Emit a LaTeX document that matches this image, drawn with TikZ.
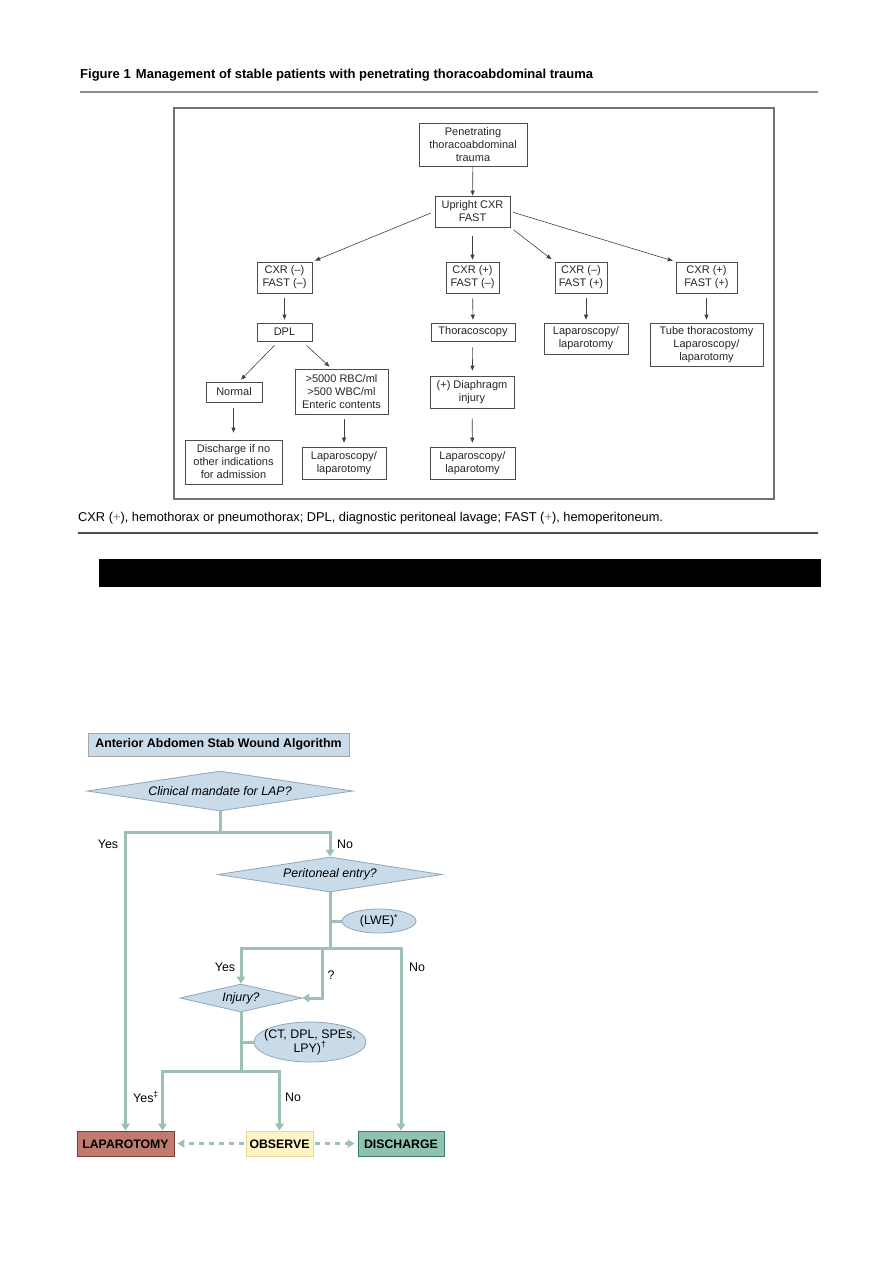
\documentclass[tikz,border=0pt]{standalone}
\usepackage{fontspec}
\setmainfont{Liberation Sans}
\usepackage{xcolor}
\usepackage{tikz}
\usetikzlibrary{arrows.meta,shapes.geometric}

\definecolor{flowline}{HTML}{9CC0B3}
\definecolor{qfill}{HTML}{C9DAE8}
\definecolor{qdraw}{HTML}{8FA6BC}
\definecolor{lapfill}{HTML}{C17A70}
\definecolor{lapdraw}{HTML}{7E3E38}
\definecolor{obsfill}{HTML}{FDF5C6}
\definecolor{obsdraw}{HTML}{E6D99A}
\definecolor{disfill}{HTML}{90C2B2}
\definecolor{disdraw}{HTML}{3F7B6B}

\begin{document}
\begin{tikzpicture}[x=1pt,y=-1pt,>={Triangle[length=5pt,width=4pt]},
  tbox/.style={draw=black!70,line width=0.7pt,align=center,inner sep=1pt,text=black!85,font=\fontsize{11}{13}\selectfont},
  tline/.style={->,draw=black!75,line width=0.6pt},
  flow/.style={draw=flowline,line width=3pt},
  flowarr/.style={flow,-{Triangle[length=7pt,width=8.5pt]}},
  dashflow/.style={draw=flowline,line width=2.5pt,dash pattern=on 5pt off 5pt,-{Triangle[length=7pt,width=8pt]},shorten >=3pt,shorten <=2pt},
  question/.style={diamond,aspect=5,draw=qdraw,fill=qfill,line width=0.8pt,inner sep=0pt,font=\itshape\fontsize{12.4}{14}\selectfont},
  note/.style={ellipse,draw=qdraw,fill=qfill,line width=0.8pt,inner xsep=-7pt,inner ysep=0pt,align=center,font=\fontsize{12.4}{14}\selectfont},
  outcome/.style={draw,line width=0.9pt,minimum height=25pt,inner sep=0pt,text height=9pt,text depth=0pt,font=\bfseries\fontsize{12.3}{14}\selectfont},
  lbl/.style={inner sep=0pt,font=\fontsize{12.4}{14}\selectfont}]
  \useasboundingbox (0,0) rectangle (893,1263);

  % figure 1 header and frame
  \node[anchor=west,inner sep=0pt,font=\bfseries\fontsize{13}{15}\selectfont] (figtitle) at (80,75) {Figure 1\hspace{0.4em}Management of stable patients with penetrating thoracoabdominal trauma};
  \draw[black!45,line width=1.2pt] (80,92) -- (818,92);
  \draw[black!55,line width=1.4pt] (174,108) rectangle (774,499);

  % figure 1 boxes
  \node[tbox,minimum width=108pt,minimum height=43pt] (pen) at (473,144.5) {Penetrating\\thoracoabdominal\\trauma};
  \node[tbox,minimum width=75pt,minimum height=31pt] (up) at (472.5,211.5) {Upright CXR\\FAST};
  \node[tbox,minimum width=55pt,minimum height=31pt] (c1) at (284.5,277.5) {CXR (–)\\FAST (–)};
  \node[tbox,minimum width=53pt,minimum height=31pt] (c2) at (472.5,277.5) {CXR (+)\\FAST (–)};
  \node[tbox,minimum width=52pt,minimum height=31pt] (c3) at (581,277.5) {CXR (–)\\FAST (+)};
  \node[tbox,minimum width=61pt,minimum height=31pt] (c4) at (706.5,277.5) {CXR (+)\\FAST (+)};
  \node[tbox,minimum width=55pt,minimum height=18pt] (dpl) at (284.5,332) {DPL};
  \node[tbox,minimum width=84pt,minimum height=18pt] (thor) at (473,332) {Thoracoscopy};
  \node[tbox,minimum width=84pt,minimum height=31pt] (lap3) at (586,338.5) {Laparoscopy/\\laparotomy};
  \node[tbox,minimum width=113pt,minimum height=43pt] (tube) at (706.5,344.5) {Tube thoracostomy\\Laparoscopy/\\laparotomy};
  \node[tbox,minimum width=56pt,minimum height=20pt] (norm) at (234,392) {Normal};
  \node[tbox,minimum width=93pt,minimum height=45pt] (rbc) at (341.5,391.5) {>5000 RBC/ml\\>500 WBC/ml\\Enteric contents};
  \node[tbox,minimum width=84pt,minimum height=32pt] (dia) at (472,392) {(+) Diaphragm\\injury};
  \node[tbox,minimum width=97pt,minimum height=44pt] (disc) at (233.5,462) {Discharge if no\\other indications\\for admission};
  \node[tbox,minimum width=84pt,minimum height=32pt] (lapa) at (344,463) {Laparoscopy/\\laparotomy};
  \node[tbox,minimum width=85pt,minimum height=32pt] (lapb) at (472.5,463) {Laparoscopy/\\laparotomy};

  % figure 1 arrows
  \draw[tline] (pen) -- (up);
  \draw[tline,shorten <=4pt,shorten >=3pt] (up.west) -- (c1.north east);
  \draw[tline,shorten <=9pt,shorten >=2pt] (up.south) -- (c2.north);
  \draw[tline,shorten <=4pt,shorten >=4pt] (up.south east) -- (c3.north west);
  \draw[tline,shorten <=3pt,shorten >=3pt] (up.east) -- (c4.north west);
  \draw[tline,shorten <=5pt,shorten >=3pt] (c1) -- (dpl);
  \draw[tline,shorten <=5pt,shorten >=3pt] (c2) -- (thor);
  \draw[tline,shorten <=5pt,shorten >=3pt] (lap3.north |- c3.south) -- (lap3.north);
  \draw[tline,shorten <=5pt,shorten >=3pt] (c4) -- (tube);
  \draw[tline] ([xshift=-10pt,yshift=-4pt]dpl.south) -- ([xshift=7pt,yshift=2pt]norm.north);
  \draw[tline] ([xshift=22pt,yshift=-4pt]dpl.south) -- ([xshift=-12pt,yshift=2pt]rbc.north);
  \draw[tline,shorten <=6pt,shorten >=5pt] (thor) -- (dia);
  \draw[tline,shorten <=6pt,shorten >=7pt] (norm.south -| disc.north) -- (disc.north);
  \draw[tline,shorten <=5pt,shorten >=4pt] (lapa.north |- rbc.south) -- (lapa.north);
  \draw[tline,shorten <=10pt,shorten >=4pt] (dia) -- (lapb);

  % caption and bar
  \node[anchor=west,inner sep=0pt,font=\fontsize{12.8}{15}\selectfont] (caption) at (78,518) {CXR (\textcolor{black!50}{+}), hemothorax or pneumothorax; DPL, diagnostic peritoneal lavage; FAST (\textcolor{black!50}{+}), hemoperitoneum.};
  \draw[black!70,line width=1.8pt] (78,533) -- (818,533);
  \fill[black] (99,559) rectangle (821,587);

  % stab wound algorithm
  \node[draw=black!35,fill=qfill,line width=0.8pt,minimum width=261pt,minimum height=23pt,inner sep=0pt,font=\bfseries\fontsize{12.4}{14}\selectfont] (algtitle) at (218.5,744.5) {Anterior Abdomen Stab Wound Algorithm};
  \node[question,minimum width=266pt,minimum height=40pt] (clin) at (220,791) {Clinical mandate for LAP?};
  \node[question,minimum width=224pt,minimum height=35pt] (per) at (330,874.5) {Peritoneal entry?};
  \node[note,minimum width=74pt,minimum height=24pt] (lwe) at (379,921) {(LWE)\textsuperscript{*}};
  \node[question,minimum width=122pt,minimum height=28pt] (inj) at (241,998) {Injury?};
  \node[note,minimum width=112pt,minimum height=40pt] (ct) at (310,1042) {(CT, DPL, SPEs,\\LPY)\textsuperscript{†}};
  \node[outcome,draw=lapdraw,fill=lapfill,minimum width=97pt] (lap) at (125.5,1143.5) {LAPAROTOMY};
  \node[outcome,draw=obsdraw,fill=obsfill,minimum width=67pt] (obs) at (279.5,1143.5) {OBSERVE};
  \node[outcome,draw=disdraw,fill=disfill,minimum width=86pt] (dis) at (401,1143.5) {DISCHARGE};

  \coordinate (j1) at (220,832);
  \coordinate (j2) at (330,948);
  \coordinate (j2q) at (322,948);
  \coordinate (j3) at (241,1071);
  \draw[flow] (clin.south) -- (j1);
  \draw[flowarr] (j1) -| (lap.north);
  \draw[flowarr] (j1) -| (per.north);
  \draw[flow] (per.south) -- (j2);
  \draw[flow] (per.south |- lwe.west) -- (lwe.west);
  \draw[flowarr] (j2) -| (inj.north);
  \draw[flowarr] (j2) -| (dis.north);
  \draw[flowarr] (j2q) |- (inj.east);
  \draw[flow] (inj.south) -- (j3);
  \draw[flow] (inj.south |- ct.west) -- (ct.west);
  \draw[flowarr] (j3) -| ([xshift=37pt]lap.north);
  \draw[flowarr] (j3) -| (obs.north);
  \draw[dashflow] (obs.west) -- (lap.east);
  \draw[dashflow] (obs.east) -- (dis.west);

  \node[lbl] (yes1) at (108,844) {Yes};
  \node[lbl] (no1) at (345,844) {No};
  \node[lbl] (yes2) at (225,967) {Yes};
  \node[lbl] (qmark) at (331,975) {?};
  \node[lbl] (no2) at (417,967) {No};
  \node[lbl] (yes3) at (146,1097) {Yes\textsuperscript{‡}};
  \node[lbl] (no3) at (293,1097) {No};
\end{tikzpicture}
\end{document}
